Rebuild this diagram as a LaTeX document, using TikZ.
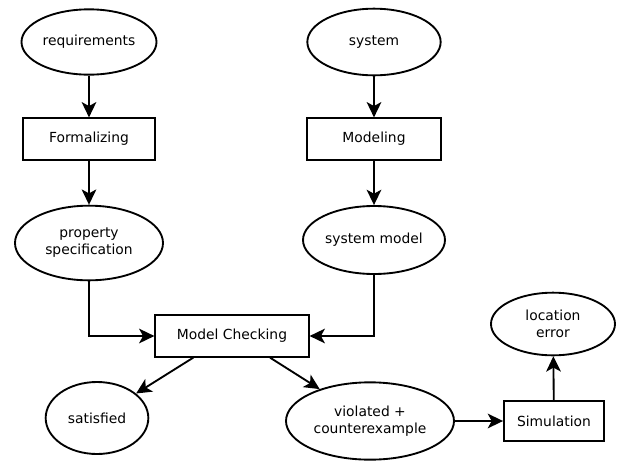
\documentclass[tikz,border=0pt]{standalone}
\usepackage{fontspec}
\setmainfont{DejaVu Sans}
\usepackage{tikz}
\usetikzlibrary{positioning,arrows.meta,shapes}

\begin{document}
\begin{tikzpicture}[
    x=0.75pt,y=-0.75pt,
    font=\fontsize{10.4pt}{12.8pt}\selectfont,
    >={Stealth[length=11.5pt,width=11pt,inset=3pt]},
    artifact/.style={draw,ellipse,line width=1.4pt,align=center,inner sep=1pt},
    activity/.style={draw,rectangle,line width=1.4pt,align=center,
      minimum height=31pt},
    flow/.style={->,line width=1.4pt}
]
\useasboundingbox (0,0) rectangle (622,461);

\node[artifact,minimum width=99pt,minimum height=49pt]  (req) at (89,42) {requirements};
\node[activity,minimum width=99pt]                      (formal) at (89,139) {Formalizing};
\node[artifact,minimum width=111pt,minimum height=56pt] (prop) at (89,243)
  {property\\specification};

\node[artifact,minimum width=100pt,minimum height=50pt] (sys) at (374,42) {system};
\node[activity,minimum width=100pt]                     (modeling) at (374,139) {Modeling};
\node[artifact,minimum width=100pt,minimum height=51pt] (sysmodel) at (374,240) {system model};

\node[activity,minimum width=115pt] (check) at (232,336) {Model Checking};

\node[artifact,minimum width=77pt,minimum height=54pt]  (sat) at (97,418) {satisfied};
\node[artifact,minimum width=126pt,minimum height=58pt] (viol) at (370,421)
  {violated +\\counterexample};
\node[activity,minimum width=75pt,minimum height=30pt]  (sim) at (554,421) {Simulation};
\node[artifact,minimum width=93pt,minimum height=47pt]  (loc) at (553,324)
  {location\\error};

\draw[flow] (req) -- (formal);
\draw[flow] (formal) -- (prop);
\draw[flow] (sys) -- (modeling);
\draw[flow] (modeling) -- (sysmodel);
\draw[flow] (prop) |- (check);
\draw[flow] (sysmodel) |- (check);
\draw[flow] ([xshift=-29pt]check.south) -- (sat);
\draw[flow] ([xshift=28.5pt]check.south) -- (viol);
\draw[flow] (viol) -- (sim);
\draw[flow] (sim) -- (loc);
\end{tikzpicture}
\end{document}
